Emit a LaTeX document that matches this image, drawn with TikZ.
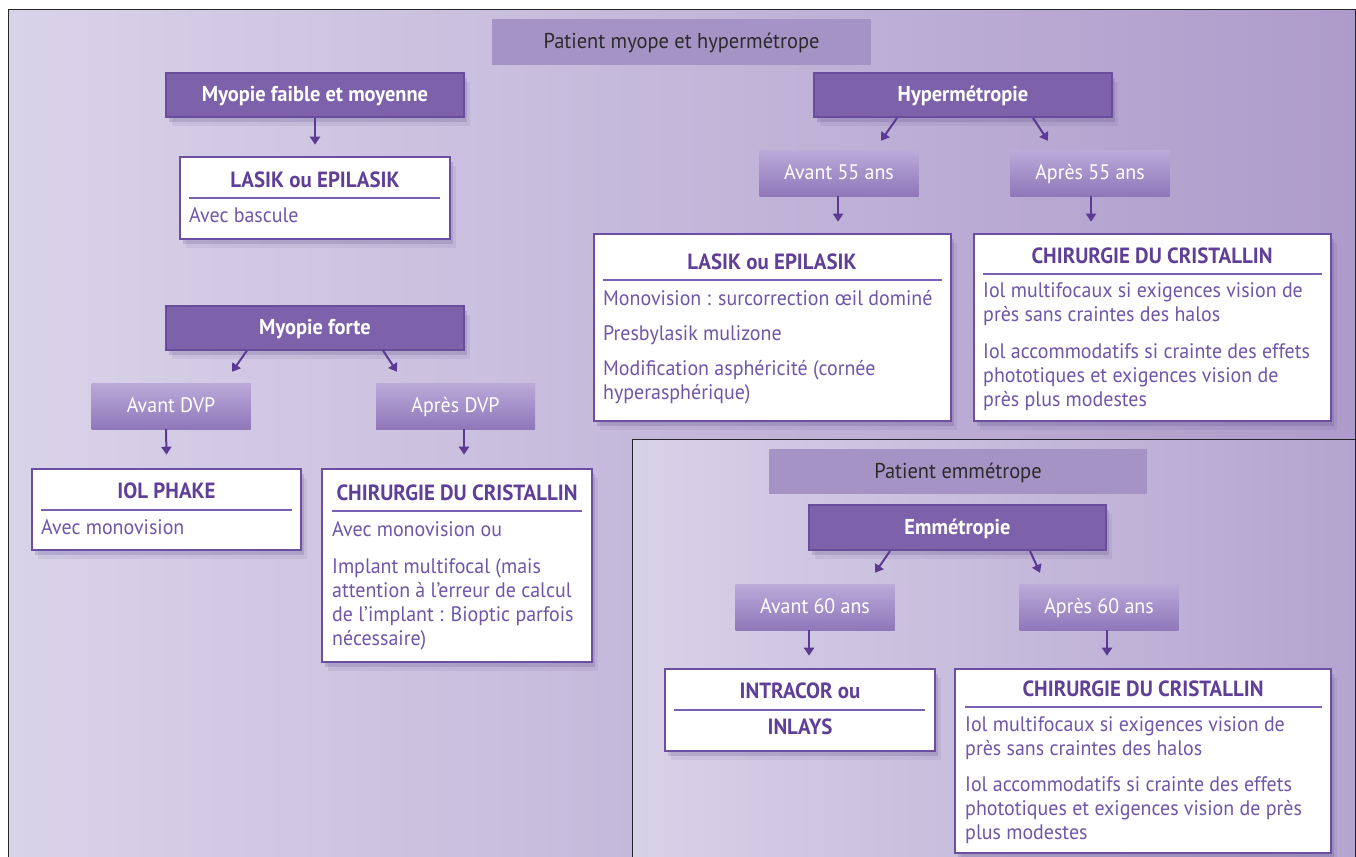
\documentclass[tikz,border=0pt]{standalone}
\usepackage{fontspec}
\setmainfont{PT Sans}[FakeStretch=0.95]
\usetikzlibrary{arrows.meta,shadows}
\definecolor{bgL}{HTML}{D9D3E9}
\definecolor{bgR}{HTML}{AE9BCB}
\definecolor{pnL}{HTML}{D8D2E8}
\definecolor{pnR}{HTML}{B4A4CF}
\definecolor{catfill}{HTML}{7D62AB}
\definecolor{catborder}{HTML}{6A4C9C}
\definecolor{hdrfill}{HTML}{A693C6}
\definecolor{hdrtext}{HTML}{2A2A2A}
\definecolor{agetop}{HTML}{BCAAD9}
\definecolor{agebot}{HTML}{8F77BA}
\definecolor{wborder}{HTML}{6C4FA3}
\definecolor{ttlcol}{HTML}{5F3F98}
\definecolor{bodycol}{HTML}{7056A8}
\definecolor{rulecol}{HTML}{7A60B2}
\definecolor{arrcol}{HTML}{5A3A93}
\definecolor{shd}{HTML}{3E2E6E}
\newcommand\fsz{\fontsize{21}{24}\selectfont}
\newcommand\fszt{\fontsize{22}{24}\selectfont}
\newcommand\fszc{\fontsize{21.5}{24}\selectfont}
\tikzset{
  softshadow/.style={drop shadow={shadow xshift=3pt, shadow yshift=-5pt, opacity=0.16, fill=shd},
                     drop shadow={shadow xshift=6pt, shadow yshift=-9pt, opacity=0.08, fill=shd}},
  hdr/.style={fill=hdrfill, inner sep=0pt, text=hdrtext, font=\fszc, text height=14pt, text depth=0pt},
  cat/.style={fill=catfill, draw=catborder, line width=2pt, inner sep=0pt, text=white, font=\fszc\bfseries,
              text height=14pt, text depth=0pt, minimum width=298pt, minimum height=44pt, softshadow},
  age/.style={top color=agetop, bottom color=agebot, inner sep=0pt, text=white, font=\fsz,
              text height=12pt, text depth=0pt, minimum width=159pt, minimum height=46pt},
  wbox/.style={fill=white, draw=wborder, line width=2.6pt, inner sep=0pt, softshadow},
  ttl/.style={text=ttlcol, font=\fszt\bfseries, inner sep=0pt, anchor=base},
  body/.style={text=bodycol, font=\fsz, inner sep=0pt, align=left, anchor=north west},
  rule/.style={draw=rulecol, line width=1.3pt},
  arr/.style={draw=arrcol, line width=2pt, -{Triangle[width=10pt,length=8pt]}},
  frame/.style={draw=black!85, line width=1pt}
}
\begin{document}
\begin{tikzpicture}[x=1pt,y=-1pt]
\useasboundingbox (0,0) rectangle (1356,856);
\fill[white] (0,0) rectangle (1356,856);
\shade[left color=bgL,right color=bgR] (8,10) rectangle (1356,860);
\shade[left color=pnL,right color=pnR] (632,439) rectangle (1356,860);
\draw[frame] (8,870) -- (8,10) -- (1355,10) -- (1355,870);
\draw[frame] (632,870) -- (632,439) -- (1356,439);

% headers
\node[hdr, minimum width=379pt, minimum height=46pt] (h1) at (681.5,42) {Patient myope et hypermétrope};
\node[hdr, minimum width=378pt, minimum height=45pt] (h2) at (958,471.5) {Patient emmétrope};

% category boxes
\node[cat] (c1) at (315,95) {Myopie faible et moyenne};
\node[cat] (c2) at (315,327.5) {Myopie forte};
\node[cat] (hy) at (963,95) {Hypermétropie};
\node[cat, minimum width=297pt, minimum height=45pt] (em) at (957.5,527.5) {Emmétropie};

% age boxes
\node[age] (avd) at (171,406) {Avant DVP};
\node[age] (apd) at (455.5,406) {Après DVP};
\node[age] (av55) at (839,173) {Avant 55 ans};
\node[age] (ap55) at (1090,173) {Après 55 ans};
\node[age] (av60) at (815,607) {Avant 60 ans};
\node[age] (ap60) at (1099,607) {Après 60 ans};

% white boxes
\node[wbox, minimum width=270pt, minimum height=82pt] (l1) at (315,198) {};
\node[ttl] (l1t) at (315,187) {LASIK ou EPILASIK};
\draw[rule] (189,198) -- (440,198);
\node[body] (l1b) at (189,205.2) {\strut Avec bascule};

\node[wbox, minimum width=269pt, minimum height=81pt] (iol) at (166.5,509.5) {};
\node[ttl] (iolt) at (166.5,498) {IOL PHAKE};
\draw[rule] (41,510) -- (292,510);
\node[body] (iolb) at (41,517.2) {\strut Avec monovision};

\node[wbox, minimum width=270pt, minimum height=193pt] (chl) at (457,565.5) {};
\node[ttl] (chlt) at (457,500) {CHIRURGIE DU CRISTALLIN};
\draw[rule] (332,511) -- (582,511);
\node[body] (chlb) at (332,519.2) {\strut Avec monovision ou\\[13pt]Implant multifocal (mais\\attention à l’erreur de calcul\\de l’implant : Bioptic parfois\\nécessaire)};

\node[wbox, minimum width=357pt, minimum height=187pt] (l2) at (772.5,327.5) {};
\node[ttl] (l2t) at (772,269) {LASIK ou EPILASIK};
\draw[rule] (603,280) -- (942,280);
\node[body] (l2b) at (603,288.2) {\strut Monovision : surcorrection œil dominé\\[11pt]Presbylasik mulizone\\[11pt]Modification asphéricité (cornée\\hyperasphérique)};

\node[wbox, minimum width=357pt, minimum height=187pt] (chr) at (1152.5,327.5) {};
\node[ttl] (chrt) at (1152,263) {CHIRURGIE DU CRISTALLIN};
\draw[rule] (983,274) -- (1322,274);
\node[body] (chrb) at (983,280.2) {\strut Iol multifocaux si exigences vision de\\près sans craintes des halos\\[13pt]Iol accommodatifs si crainte des effets\\phototiques et exigences vision de\\près plus modestes};

\node[wbox, minimum width=270pt, minimum height=82pt] (in) at (800,710) {};
\node[ttl] (int1) at (800,698) {INTRACOR ou};
\draw[rule] (674,710) -- (925,710);
\node[ttl] (int2) at (800,734) {INLAYS};

\node[wbox, minimum width=376pt, minimum height=184pt] (chb) at (1143,761) {};
\node[ttl] (chbt) at (1143,696) {CHIRURGIE DU CRISTALLIN};
\draw[rule] (965,707) -- (1322,707);
\node[body] (chbb) at (965,714.2) {\strut Iol multifocaux si exigences vision de\\près sans craintes des halos\\[12pt]Iol accommodatifs si crainte des effets\\phototiques et exigences vision de près\\plus modestes};

% arrows
\draw[arr, shorten >=11pt] (c1.south) -- (l1.north);
\draw[arr] ([xshift=-68pt]c2.south) -- ([xshift=61pt,yshift=11pt]avd.north);
\draw[arr] ([xshift=68pt]c2.south) -- ([xshift=-58.5pt,yshift=11pt]apd.north);
\draw[arr] ([xshift=-5pt]avd.south) -- ([yshift=13pt]iol.north);
\draw[arr] ([xshift=8.5pt]apd.south) -- ([xshift=7pt,yshift=13pt]chl.north);
\draw[arr] ([xshift=-66pt]hy.south) -- ([xshift=42pt,yshift=9pt]av55.north);
\draw[arr] ([xshift=70pt]hy.south) -- ([xshift=-42pt,yshift=9pt]ap55.north);
\draw[arr] ([xshift=-1pt]av55.south) -- ([xshift=65.5pt,yshift=11pt]l2.north);
\draw[arr] ([xshift=1pt]ap55.south) -- ([xshift=-61.5pt,yshift=11pt]chr.north);
\draw[arr] ([xshift=-67.5pt]em.south) -- ([xshift=60pt,yshift=11pt]av60.north);
\draw[arr] ([xshift=72.5pt]em.south) -- ([xshift=-59pt,yshift=11pt]ap60.north);
\draw[arr] ([xshift=-6pt]av60.south) -- ([xshift=9pt,yshift=12pt]in.north);
\draw[arr] ([xshift=8pt]ap60.south) -- ([xshift=-36pt,yshift=12pt]chb.north);
\end{tikzpicture}
\end{document}
